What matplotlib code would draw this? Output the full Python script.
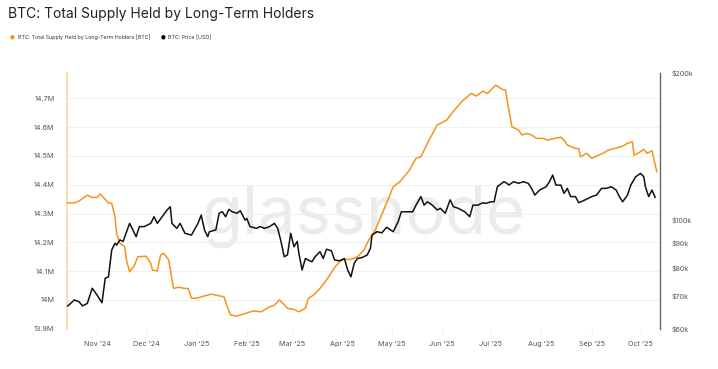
import matplotlib
matplotlib.use("Agg")
import matplotlib.pyplot as plt
import matplotlib.dates as mdates
from matplotlib.ticker import FixedLocator, FuncFormatter, NullLocator
import pandas as pd

# long-term holder supply [million BTC]
lth_dates = [
    "2024-10-14", "2024-10-18", "2024-10-21", "2024-10-24", "2024-10-26", "2024-10-29",
    "2024-11-01", "2024-11-03", "2024-11-06", "2024-11-08", "2024-11-10", "2024-11-12",
    "2024-11-13", "2024-11-15", "2024-11-18", "2024-11-19", "2024-11-21", "2024-11-24",
    "2024-11-26", "2024-12-01", "2024-12-04", "2024-12-05", "2024-12-08", "2024-12-10",
    "2024-12-12", "2024-12-15", "2024-12-18", "2024-12-21", "2024-12-25", "2024-12-27",
    "2024-12-29", "2025-01-01", "2025-01-06", "2025-01-10", "2025-01-13", "2025-01-18",
    "2025-01-20", "2025-01-22", "2025-01-26", "2025-01-31", "2025-02-05", "2025-02-10",
    "2025-02-14", "2025-02-18", "2025-02-21", "2025-02-23", "2025-02-26", "2025-03-02",
    "2025-03-05", "2025-03-09", "2025-03-11", "2025-03-14", "2025-03-18", "2025-03-22",
    "2025-03-27", "2025-03-30", "2025-04-02", "2025-04-06", "2025-04-10", "2025-04-14",
    "2025-04-17", "2025-04-21", "2025-04-27", "2025-05-02", "2025-05-06", "2025-05-12",
    "2025-05-16", "2025-05-19", "2025-05-24", "2025-05-29", "2025-06-04", "2025-06-07",
    "2025-06-13", "2025-06-19", "2025-06-22", "2025-06-26", "2025-06-29", "2025-07-04",
    "2025-07-08", "2025-07-10", "2025-07-12", "2025-07-14", "2025-07-18", "2025-07-20",
    "2025-07-23", "2025-07-26", "2025-07-29", "2025-08-02", "2025-08-05", "2025-08-09",
    "2025-08-13", "2025-08-15", "2025-08-17", "2025-08-22", "2025-08-24", "2025-08-25",
    "2025-08-29", "2025-09-01", "2025-09-04", "2025-09-08", "2025-09-11", "2025-09-15",
    "2025-09-20", "2025-09-23", "2025-09-26", "2025-09-27", "2025-09-30", "2025-10-03",
    "2025-10-05", "2025-10-08", "2025-10-11",
]
lth_supply = [
    14.337, 14.337, 14.344, 14.356, 14.364, 14.356,
    14.356, 14.368, 14.349, 14.337, 14.335, 14.289,
    14.231, 14.197, 14.185, 14.139, 14.098, 14.121,
    14.150, 14.152, 14.127, 14.104, 14.101, 14.156,
    14.162, 14.139, 14.040, 14.044, 14.040, 14.040,
    14.006, 14.006, 14.014, 14.020, 14.017, 14.011,
    13.976, 13.948, 13.944, 13.953, 13.962, 13.959,
    13.974, 13.982, 14.000, 13.990, 13.971, 13.967,
    13.959, 13.971, 14.006, 14.017, 14.040, 14.069,
    14.113, 14.133, 14.141, 14.141, 14.150, 14.173,
    14.208, 14.243, 14.324, 14.393, 14.410, 14.451,
    14.492, 14.497, 14.555, 14.607, 14.625, 14.648,
    14.688, 14.717, 14.708, 14.725, 14.717, 14.746,
    14.731, 14.729, 14.660, 14.601, 14.590, 14.573,
    14.578, 14.573, 14.561, 14.561, 14.555, 14.561,
    14.565, 14.555, 14.538, 14.526, 14.526, 14.497,
    14.509, 14.492, 14.500, 14.509, 14.520, 14.526,
    14.534, 14.544, 14.549, 14.503, 14.511, 14.523,
    14.509, 14.518, 14.445,
]

# BTC price [thousand USD]
price_dates = [
    "2024-10-14", "2024-10-18", "2024-10-21", "2024-10-23", "2024-10-26", "2024-10-29",
    "2024-11-01", "2024-11-04", "2024-11-06", "2024-11-08", "2024-11-10", "2024-11-12",
    "2024-11-13", "2024-11-15", "2024-11-17", "2024-11-21", "2024-11-23", "2024-11-25",
    "2024-11-27", "2024-11-30", "2024-12-04", "2024-12-06", "2024-12-08", "2024-12-11",
    "2024-12-14", "2024-12-16", "2024-12-17", "2024-12-20", "2024-12-22", "2024-12-25",
    "2024-12-29", "2025-01-02", "2025-01-04", "2025-01-06", "2025-01-08", "2025-01-09",
    "2025-01-13", "2025-01-15", "2025-01-17", "2025-01-19", "2025-01-21", "2025-01-23",
    "2025-01-26", "2025-01-28", "2025-01-31", "2025-02-01", "2025-02-03", "2025-02-07",
    "2025-02-09", "2025-02-12", "2025-02-15", "2025-02-18", "2025-02-20", "2025-02-22",
    "2025-02-24", "2025-02-26", "2025-02-28", "2025-03-02", "2025-03-04", "2025-03-05",
    "2025-03-07", "2025-03-09", "2025-03-13", "2025-03-15", "2025-03-18", "2025-03-20",
    "2025-03-22", "2025-03-25", "2025-03-27", "2025-03-30", "2025-04-02", "2025-04-04",
    "2025-04-06", "2025-04-08", "2025-04-10", "2025-04-13", "2025-04-16", "2025-04-18",
    "2025-04-19", "2025-04-22", "2025-04-25", "2025-04-28", "2025-05-02", "2025-05-05",
    "2025-05-07", "2025-05-10", "2025-05-14", "2025-05-16", "2025-05-19", "2025-05-21",
    "2025-05-23", "2025-05-26", "2025-05-29", "2025-05-31", "2025-06-03", "2025-06-06",
    "2025-06-08", "2025-06-11", "2025-06-15", "2025-06-18", "2025-06-20", "2025-06-23",
    "2025-06-26", "2025-06-28", "2025-07-01", "2025-07-03", "2025-07-05", "2025-07-09",
    "2025-07-11", "2025-07-12", "2025-07-15", "2025-07-18", "2025-07-21", "2025-07-24",
    "2025-07-26", "2025-07-28", "2025-07-31", "2025-08-04", "2025-08-06", "2025-08-08",
    "2025-08-10", "2025-08-13", "2025-08-15", "2025-08-17", "2025-08-19", "2025-08-22",
    "2025-08-24", "2025-08-28", "2025-09-01", "2025-09-04", "2025-09-07", "2025-09-10",
    "2025-09-13", "2025-09-16", "2025-09-18", "2025-09-20", "2025-09-23", "2025-09-25",
    "2025-09-28", "2025-10-01", "2025-10-03", "2025-10-04", "2025-10-06", "2025-10-08",
    "2025-10-10",
]
price_k = [
    66.8, 68.7, 68.1, 66.8, 67.6, 72.6,
    70.3, 67.8, 76.1, 76.6, 86.9, 89.7,
    88.9, 91.1, 90.5, 98.5, 95.5, 92.5,
    97.0, 97.0, 98.5, 101.6, 98.5, 101.6,
    104.9, 106.5, 98.5, 96.2, 98.5, 94.0,
    93.2, 98.5, 102.4, 95.5, 92.5, 94.7,
    95.5, 103.3, 104.0, 101.6, 105.2, 104.0,
    103.3, 104.5, 100.0, 100.8, 97.0, 96.2,
    97.0, 96.2, 97.0, 98.5, 96.2, 90.5,
    84.2, 84.9, 94.0, 88.2, 90.5, 85.6,
    79.1, 83.5, 82.2, 84.2, 86.2, 83.5,
    87.2, 86.6, 82.9, 82.6, 83.5, 79.1,
    76.6, 81.6, 83.5, 83.9, 84.9, 87.6,
    93.2, 94.7, 94.2, 96.7, 94.7, 99.2,
    104.0, 104.0, 104.0, 107.3, 111.7, 107.3,
    109.0, 107.3, 104.9, 105.7, 103.3, 110.0,
    106.5, 105.7, 104.0, 101.6, 107.3, 107.3,
    108.5, 108.2, 109.0, 109.0, 117.0, 119.8,
    118.9, 117.9, 119.8, 118.9, 119.8, 118.9,
    116.1, 112.5, 115.2, 117.0, 119.8, 123.6,
    117.9, 117.9, 113.4, 116.1, 111.7, 111.7,
    108.5, 110.0, 111.7, 112.5, 116.1, 116.1,
    117.0, 115.2, 111.7, 109.0, 112.5, 117.9,
    122.6, 124.6, 122.6, 117.0, 111.7, 115.2,
    111.3,
]

left_ticks = [13.9, 14.0, 14.1, 14.2, 14.3, 14.4, 14.5, 14.6, 14.7]
right_ticks = [60, 70, 80, 90, 100, 200]

ORANGE = "#f7931a"
GRID = "#f0f0f0"
TXT = "#555555"

plt.rcParams["font.family"] = ["Inter", "DejaVu Sans"]

fig = plt.figure(figsize=(7.18, 3.69), dpi=100)
ax = fig.add_axes([0.0933, 0.109, 0.826, 0.694])
ax2 = ax.twinx()

x1 = pd.to_datetime(lth_dates)
x2 = pd.to_datetime(price_dates)
ax.plot(x1, [v * 1e6 for v in lth_supply], color=ORANGE, lw=1.1, zorder=3)
ax2.plot(x2, [v * 1e3 for v in price_k], color="#111111", lw=1.1, zorder=3)

ax.set_xlim(pd.Timestamp("2024-10-13 12:00"), pd.Timestamp("2025-10-13"))
ax.set_ylim(13.9e6, 14.789e6)
ax2.set_yscale("log")
ax2.set_ylim(60e3, 200e3)

ax.yaxis.set_major_locator(FixedLocator([v * 1e6 for v in left_ticks]))
ax.yaxis.set_major_formatter(FuncFormatter(
    lambda v, p: f"{v / 1e6:.1f}M".replace(".0M", "M")))
ax.grid(axis="y", color=GRID, lw=0.8)
ax.set_axisbelow(True)

ax2.yaxis.set_major_locator(FixedLocator([v * 1e3 for v in right_ticks]))
ax2.yaxis.set_minor_locator(NullLocator())
ax2.yaxis.set_major_formatter(FuncFormatter(lambda v, p: f"${v / 1e3:.0f}k"))

ax.xaxis.set_major_locator(mdates.MonthLocator())
ax.xaxis.set_major_formatter(mdates.DateFormatter("%b '%y"))

for s in ["top", "bottom", "right"]:
    ax.spines[s].set_visible(False)
for s in ["top", "bottom", "left"]:
    ax2.spines[s].set_visible(False)
ax.spines["left"].set_color("#fcd3a3")
ax.spines["left"].set_linewidth(1.2)
ax2.spines["right"].set_color("#666666")
ax2.spines["right"].set_linewidth(1.0)

ax.tick_params(axis="y", length=0, pad=9, labelsize=5.2, labelcolor=TXT)
ax.tick_params(axis="x", length=4, color=GRID, pad=5, labelsize=5.2, labelcolor=TXT)
ax2.tick_params(axis="y", length=0, pad=8, labelsize=5.2, labelcolor=TXT)

# watermark
ax.text(0.5, 0.44, "glassnode", transform=ax.transAxes, ha="center", va="center",
        fontsize=48, color="#ebebeb", fontweight="normal", zorder=0)

fig.text(0.011, 0.963, "BTC: Total Supply Held by Long-Term Holders", fontsize=10,
         color="#222222", va="center", ha="left")
fig.text(0.014, 0.899, "\u25cf", color=ORANGE, fontsize=4, va="center", family=["DejaVu Sans"])
fig.text(0.025, 0.899, "BTC: Total Supply Held by Long-Term Holders [BTC]", fontsize=3.8,
         color="#333333", va="center")
fig.text(0.224, 0.899, "\u25cf", color="#000000", fontsize=4, va="center", family=["DejaVu Sans"])
fig.text(0.234, 0.899, "BTC: Price [USD]", fontsize=3.8, color="#333333", va="center")

fig.savefig("out.png", dpi=100, facecolor="white")
